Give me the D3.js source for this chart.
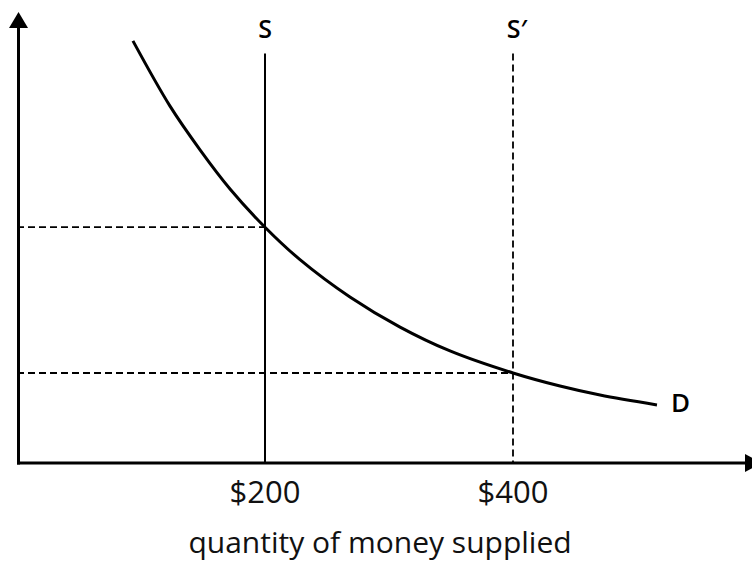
<!DOCTYPE html>
<html><head><meta charset="utf-8">
<script src="https://cdn.jsdelivr.net/npm/d3@7"></script>
<style>html,body{margin:0;padding:0;background:#fff;}svg{display:block;}</style>
</head><body>
<script>
// Data
const supplyLevels = [200, 400];            // S and S'
const supplyLabels = ["S", "S\u2032"];
const supplyDash = ["none", "7,4"];
const tickValues = [200, 400];
const tickLabels = ["$200", "$400"];
const demandQ = [93.5, 123.4, 147.6, 171.8, 200, 228.2, 268.5, 308.9, 349.2, 400, 437.9, 470.2, 516.1];
const demandR = [93.8, 79.3, 69.6, 60.9, 52.4, 45.2, 36.9, 30.2, 24.9, 20, 17.1, 15.1, 12.9];
const xTitle = "quantity of money supplied";
const demandLabel = "D";

const W = 752, H = 562;
const svg = d3.select("body").append("svg").attr("width", W).attr("height", H);
const x = d3.scaleLinear().domain([0, 400]).range([17, 513]);
const y = d3.scaleLinear().domain([0, 100]).range([463, 13]);
const font = "'Open Sans', sans-serif";

// dashed guides from intersections
const rAt = q => demandR[demandQ.indexOf(q)];
supplyLevels.forEach(q => {
  svg.append("line").attr("x1", x(0)).attr("x2", x(q)).attr("y1", y(rAt(q))).attr("y2", y(rAt(q)))
    .attr("stroke", "#000").attr("stroke-width", 1.8).attr("stroke-dasharray", "7,4");
});

// supply lines
supplyLevels.forEach((q, i) => {
  svg.append("line").attr("x1", x(q)).attr("x2", x(q)).attr("y1", y(91)).attr("y2", y(0))
    .attr("stroke", "#000").attr("stroke-width", i === 0 ? 2 : 1.8).attr("stroke-dasharray", supplyDash[i]);
  svg.append("text").attr("x", x(q) + (i === 0 ? 0 : 4)).attr("y", 38).attr("text-anchor", "middle")
    .attr("font-family", font).attr("font-size", 25).attr("font-weight", 600).text(supplyLabels[i]);
});

// demand curve
const line = d3.line().x((d, i) => x(demandQ[i])).y((d, i) => y(demandR[i])).curve(d3.curveCatmullRom);
svg.append("path").attr("d", line(demandQ)).attr("fill", "none").attr("stroke", "#000").attr("stroke-width", 3);
svg.append("text").attr("x", x(demandQ[demandQ.length - 1]) + 14).attr("y", y(demandR[demandR.length - 1]) + 7)
  .attr("font-family", font).attr("font-size", 26).attr("font-weight", 600).text(demandLabel);

// axes
svg.append("line").attr("x1", 18.5).attr("x2", 18.5).attr("y1", y(0) + 1.5).attr("y2", 26).attr("stroke", "#000").attr("stroke-width", 3);
svg.append("path").attr("d", "M9,28 L18.5,12 L28,28 Z").attr("fill", "#000");
svg.append("line").attr("x1", 17).attr("x2", 746).attr("y1", y(0)).attr("y2", y(0)).attr("stroke", "#000").attr("stroke-width", 3);
svg.append("path").attr("d", `M745,${y(0) - 9} L762,${y(0)} L745,${y(0) + 9} Z`).attr("fill", "#000");

// tick labels
tickValues.forEach((v, i) => {
  svg.append("text").attr("x", x(v)).attr("y", 503).attr("text-anchor", "middle")
    .attr("font-family", font).attr("font-size", 31).attr("fill", "#111").text(tickLabels[i]);
});
svg.append("text").attr("x", 380).attr("y", 553).attr("text-anchor", "middle")
  .attr("font-family", font).attr("font-size", 30).attr("fill", "#111").text(xTitle);
</script>
</body></html>
